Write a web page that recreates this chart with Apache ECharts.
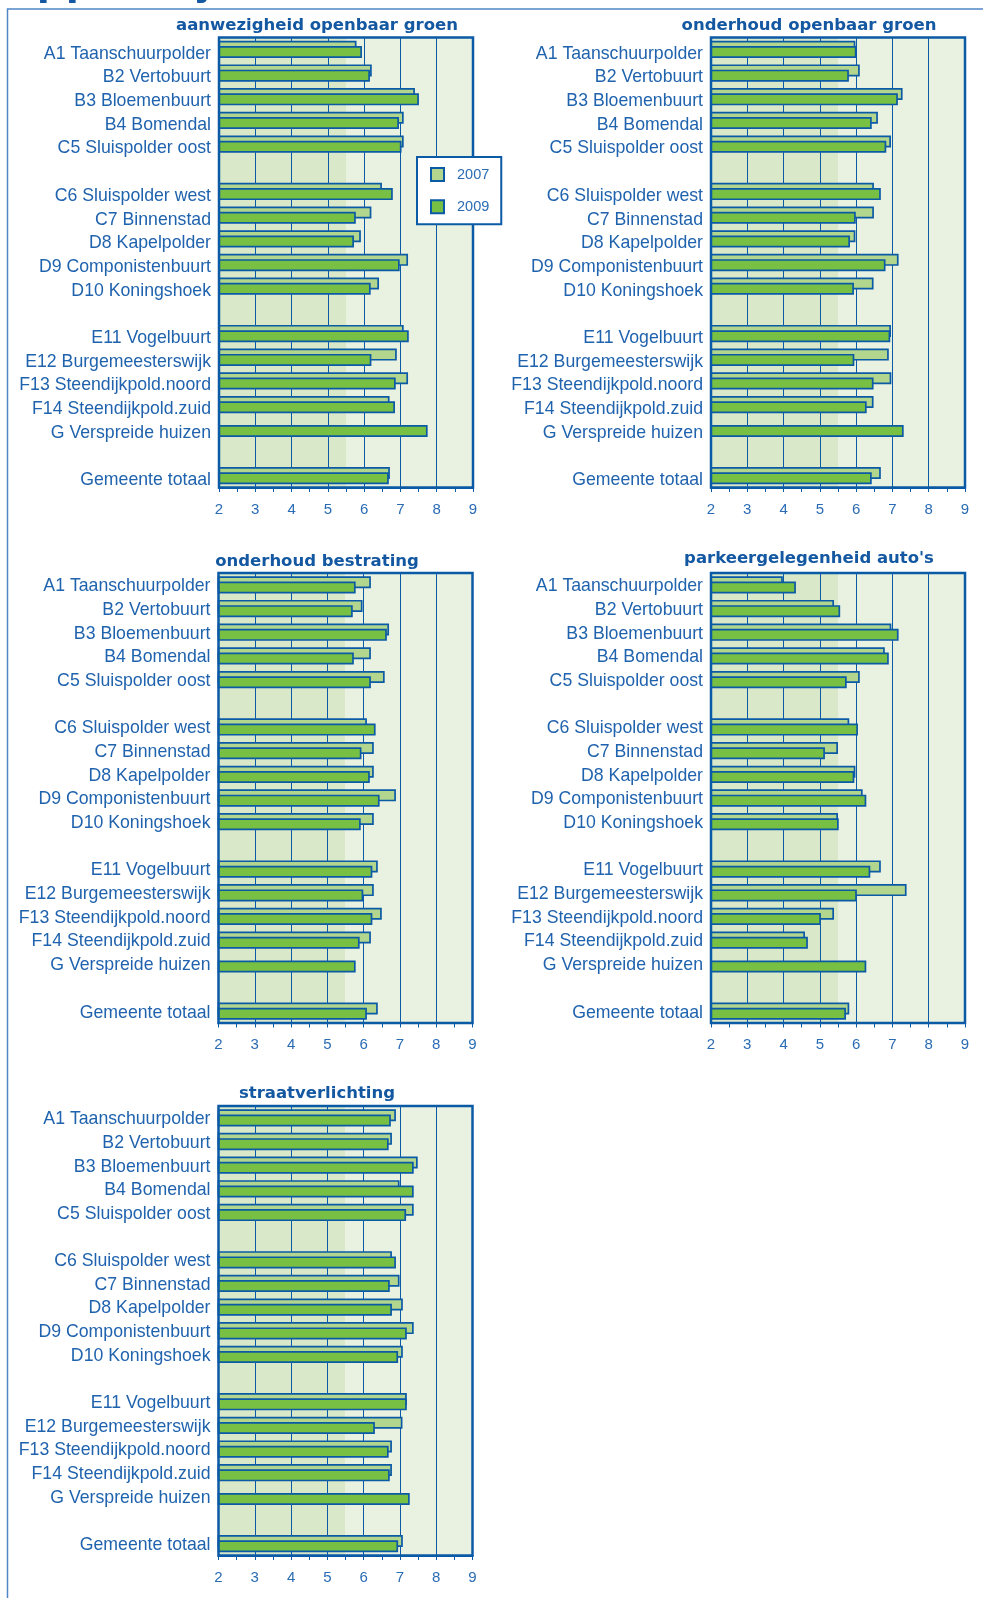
<!DOCTYPE html>
<html><head><meta charset="utf-8">
<script src="https://cdn.jsdelivr.net/npm/echarts@6/dist/echarts.min.js"></script>
<style>html,body{margin:0;padding:0;background:#fff}#c{width:983px;height:1598px}</style>
</head><body><div id="c"></div>
<script>
// ---- data ----
const categories = ['A1 Taanschuurpolder','B2 Vertobuurt','B3 Bloemenbuurt','B4 Bomendal','C5 Sluispolder oost',' ',
  'C6 Sluispolder west','C7 Binnenstad','D8 Kapelpolder','D9 Componistenbuurt','D10 Koningshoek','  ',
  'E11 Vogelbuurt','E12 Burgemeesterswijk','F13 Steendijkpold.noord','F14 Steendijkpold.zuid','G Verspreide huizen','   ',
  'Gemeente totaal'];
const years = ['2007', '2009'];
const titles = ['aanwezigheid openbaar groen','onderhoud openbaar groen','onderhoud bestrating',"parkeergelegenheid auto's",'straatverlichting'];
const pageHeading = 'Rapportcijfers';

const groen2007 = [5.79,6.21,7.40,7.09,7.09,null,6.49,6.20,5.91,7.21,6.41,null,7.09,6.90,7.21,6.70,null,null,6.71];
const groen2009 = [5.94,6.16,7.51,6.96,7.03,null,6.79,5.77,5.72,6.98,6.18,null,7.23,6.20,6.87,6.85,7.75,null,6.68];
const onderhoudGroen2007 = [5.98,6.10,7.28,6.60,6.96,null,6.49,6.49,5.98,7.17,6.48,null,6.96,6.90,6.97,6.48,null,null,6.68];
const onderhoudGroen2009 = [6.01,5.80,7.15,6.43,6.83,null,6.68,5.99,5.83,6.81,5.94,null,6.94,5.95,6.48,6.29,7.31,null,6.43];
const bestrating2007 = [6.20,5.97,6.70,6.20,6.58,null,6.09,6.28,6.28,6.89,6.28,null,6.39,6.28,6.50,6.20,null,null,6.39];
const bestrating2009 = [5.78,5.70,6.64,5.73,6.20,null,6.33,5.94,6.17,6.44,5.92,null,6.24,5.99,6.24,5.89,5.78,null,6.09];
const parkeren2007 = [3.98,5.39,6.97,6.79,6.10,null,5.81,5.50,5.98,6.18,5.50,null,6.68,7.39,5.39,4.59,null,null,5.81];
const parkeren2009 = [4.34,5.56,7.17,6.90,5.74,null,6.05,5.14,5.95,6.28,5.52,null,6.39,6.02,5.03,4.67,6.28,null,5.72];
const verlichting2007 = [6.89,6.78,7.49,6.99,7.38,null,6.78,6.99,7.08,7.38,7.08,null,7.19,7.07,6.78,6.78,null,null,7.08];
const verlichting2009 = [6.75,6.69,7.38,7.38,7.17,null,6.89,6.72,6.78,7.19,6.95,null,7.19,6.31,6.69,6.72,7.27,null,6.95];

const xMin = 2, xMax = 9, xInterval = 1, bandSplit = 5.5;

// ---- layout / style ----
const panels = [
  {d: [groen2007, groen2009], left: 219, top: 37.5, width: 254, height: 450, tx: 317, ty: 26, lp: 9},
  {d: [onderhoudGroen2007, onderhoudGroen2009], left: 711, top: 37.5, width: 254, height: 450, tx: 809, ty: 26, lp: 9},
  {d: [bestrating2007, bestrating2009], left: 218.5, top: 573, width: 254, height: 450, tx: 317, ty: 561.5, lp: 3},
  {d: [parkeren2007, parkeren2009], left: 711, top: 573, width: 254, height: 450, tx: 809, ty: 559, lp: 3},
  {d: [verlichting2007, verlichting2009], left: 218.5, top: 1106, width: 254, height: 449.5, tx: 317, ty: 1093.5, lp: 3}
];
const BLUE = '#0b5aa6', LABEL = '#1f62ad', TITLE = '#1458a2';
const FILL = ['#b3d68e', '#78c043'];
const BAND = ['#d9e8c8', '#e9f2e0'];

const grid = [], xAxis = [], yAxis = [], series = [], graphic = [];
panels.forEach((p, i) => {
  grid.push({left: p.left, top: p.top, width: p.width, height: p.height, show: true, z: 3,
    backgroundColor: 'transparent', borderColor: BLUE, borderWidth: 2.5});
  xAxis.push({type: 'value', gridIndex: i, min: xMin, max: xMax, interval: xInterval, z: 1,
    axisLine: {show: true, lineStyle: {color: BLUE, width: 2}},
    axisTick: {show: true, length: 4.5, lineStyle: {color: BLUE, width: 1}},
    minorTick: {show: true, splitNumber: 2, length: 4.5, lineStyle: {color: BLUE, width: 1}},
    splitLine: {show: true, lineStyle: {color: BLUE, width: 1}},
    axisLabel: {fontSize: 15, color: '#2a6cb4', margin: 14.5, fontFamily: 'Liberation Sans'}});
  yAxis.push({type: 'category', gridIndex: i, inverse: true, data: categories, z: 1,
    axisLine: {show: false}, axisTick: {show: false}, splitLine: {show: false},
    axisLabel: {margin: 8, formatter: v => '{a|' + v + '}',
      rich: {a: {fontSize: 17.7, color: LABEL, fontFamily: 'Liberation Sans', padding: [p.lp, 0, 0, 0]}}}});
  years.forEach((y, k) => {
    const s = {type: 'bar', name: y, xAxisIndex: i, yAxisIndex: i, data: p.d[k], z: 2,
      barWidth: 12, barGap: '-56%', silent: true,
      itemStyle: {color: FILL[k], borderColor: BLUE, borderWidth: 1.7}};
    if (k === 0) {
      s.markArea = {silent: true, z: 0, itemStyle: {color: BAND[0]},
        data: [[{xAxis: xMin}, {xAxis: bandSplit}],
               [{xAxis: bandSplit, itemStyle: {color: BAND[1]}}, {xAxis: xMax}]]};
    }
    series.push(s);
  });
  graphic.push({type: 'text', x: p.tx, y: p.ty, z: 10,
    style: {text: titles[i], fill: TITLE, font: 'bold 16.5px "DejaVu Sans"', textAlign: 'center', textVerticalAlign: 'middle'}});
});
// page heading, cut off by the top edge (only descenders visible)
graphic.push({type: 'text', x: -24, y: -20, z: 10,
  style: {text: pageHeading, fill: TITLE, font: 'bold 47.5px "Liberation Sans"', textAlign: 'left', textVerticalAlign: 'middle'}});
graphic.push({type: 'polyline', z: 10, shape: {points: [[7.5, 1598], [7.5, 9], [983, 9]]},
  style: {stroke: '#4f86c6', lineWidth: 1.5, fill: null}});

const chart = echarts.init(document.getElementById('c'), null, {renderer: 'canvas'});
chart.setOption({
  animation: false,
  backgroundColor: '#ffffff',
  grid, xAxis, yAxis, series, graphic,
  legend: {show: true, data: years, orient: 'vertical', left: 417, top: 157,
    padding: [10, 12, 10, 13], itemGap: 17.2, itemWidth: 13, itemHeight: 13,
    backgroundColor: '#ffffff', borderColor: BLUE, borderWidth: 2, borderRadius: 0,
    icon: 'rect', selectedMode: false,
    itemStyle: {borderColor: BLUE, borderWidth: 2},
    textStyle: {fontSize: 14.5, color: '#2a6cb4', fontFamily: 'Liberation Sans', padding: [0, 0, 0, 8]}}
});
</script></body></html>
